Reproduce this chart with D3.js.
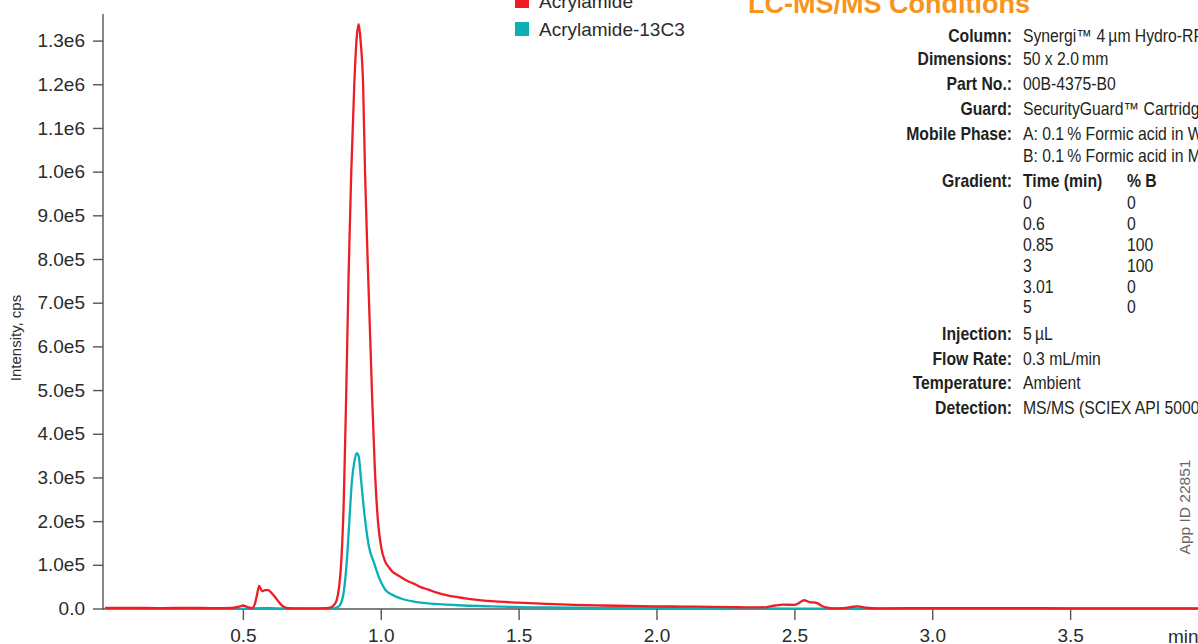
<!DOCTYPE html>
<html>
<head>
<meta charset="utf-8">
<script src="https://cdn.jsdelivr.net/npm/d3@7"></script>
<style>
  body { margin: 0; background: #fff; }
  svg { display: block; font-family: "Liberation Sans", Arial, Helvetica, sans-serif; }
</style>
</head>
<body>
<svg id="chart" width="1198" height="644"></svg>
<script>
// time (min) and intensity (cps)
var redTimes = [0, 0.1, 0.2, 0.3, 0.4, 0.46, 0.49, 0.5, 0.515, 0.533, 0.545, 0.552, 0.559, 0.566, 0.571, 0.58, 0.592, 0.605, 0.616, 0.628, 0.64, 0.652, 0.665, 0.7, 0.75, 0.8, 0.82, 0.83, 0.84, 0.849, 0.857, 0.866, 0.875, 0.884, 0.893, 0.904, 0.913, 0.92, 0.927, 0.936, 0.943, 0.955, 0.968, 0.978, 0.99, 1.002, 1.015, 1.03, 1.043, 1.06, 1.075, 1.097, 1.12, 1.145, 1.17, 1.2, 1.25, 1.3, 1.35, 1.4, 1.5, 1.6, 1.7, 1.8, 1.9, 2.0, 2.1, 2.2, 2.3, 2.36, 2.4, 2.43, 2.46, 2.5, 2.515, 2.535, 2.555, 2.58, 2.6, 2.62, 2.64, 2.68, 2.71, 2.73, 2.76, 2.8, 2.9, 3.0, 3.2, 3.4, 3.6, 3.8, 4.0];
var redValues = [2500, 2500, 2000, 2500, 2000, 2500, 6000, 8000, 5000, 2000, 15000, 35000, 53000, 44000, 41000, 43000, 43000, 36000, 28000, 18000, 9000, 4000, 2000, 1500, 1500, 2000, 4000, 9000, 20000, 50000, 110000, 250000, 500000, 780000, 1000000, 1200000, 1310000, 1339000, 1300000, 1200000, 1000000, 750000, 500000, 330000, 200000, 140000, 110000, 95000, 85000, 78000, 72000, 64000, 58000, 50000, 45000, 38000, 30000, 25000, 21000, 18000, 14500, 11500, 9500, 8000, 7000, 6000, 5500, 5000, 4000, 3500, 4500, 8000, 10000, 9500, 13000, 20000, 16000, 14000, 7000, 3000, 1500, 2000, 5000, 6000, 3000, 1500, 1800, 2000, 2000, 1800, 1500, 1500, 1500];

var tealTimes = [0, 0.5, 0.57, 0.62, 0.8, 0.83, 0.845, 0.855, 0.866, 0.877, 0.886, 0.895, 0.905, 0.913, 0.92, 0.928, 0.937, 0.946, 0.958, 0.976, 0.995, 1.018, 1.04, 1.073, 1.12, 1.17, 1.24, 1.3, 1.4, 1.5, 1.6, 1.8, 2.0, 2.5, 3.0, 4.0];
var tealValues = [500, 500, 2000, 1500, 500, 1500, 5000, 12000, 40000, 110000, 200000, 290000, 340000, 357000, 350000, 300000, 240000, 190000, 140000, 105000, 70000, 43000, 33000, 24000, 17000, 13000, 10000, 8000, 6000, 4500, 3500, 2500, 2000, 1000, 800, 800];

var seriesNames = ["Acrylamide", "Acrylamide-13C3"];
var seriesColors = ["#ee1c25", "#0bb0b5"];

var xTicks = [0.5, 1.0, 1.5, 2.0, 2.5, 3.0, 3.5];
var yTicks = [0, 1e5, 2e5, 3e5, 4e5, 5e5, 6e5, 7e5, 8e5, 9e5, 1e6, 1.1e6, 1.2e6, 1.3e6];
var yTickLabels = ["0.0", "1.0e5", "2.0e5", "3.0e5", "4.0e5", "5.0e5", "6.0e5", "7.0e5", "8.0e5", "9.0e5", "1.0e6", "1.1e6", "1.2e6", "1.3e6"];

// LC-MS/MS conditions panel
var condLabels = ["Column:", "Dimensions:", "Part No.:", "Guard:", "Mobile Phase:", "", "Gradient:"];
var condValues = ["Synergi\u2122 4\u2009\u00b5m Hydro-RP 80 \u00c5", "50 x 2.0\u2009mm", "00B-4375-B0", "SecurityGuard\u2122  Cartridges AQ C18", "A: 0.1\u2009% Formic acid in Water", "B: 0.1\u2009% Formic acid in Methanol", "Time (min)"];
var gradTimes = ["0", "0.6", "0.85", "3", "3.01", "5"];
var gradB = ["0", "0", "100", "100", "0", "0"];
var condLabels2 = ["Injection:", "Flow Rate:", "Temperature:", "Detection:"];
var condValues2 = ["5\u2009\u00b5L", "0.3 mL/min", "Ambient", "MS/MS (SCIEX API 5000\u2122)"];

var svg = d3.select("#chart");

var x = d3.scaleLinear().domain([0, 4]).range([105, 1208]);
var y = d3.scaleLinear().domain([0, 1.362e6]).range([609, 14]);

var axisColor = "#555";

// clip so the traces stop at the picture edge
svg.append("clipPath").attr("id", "plotclip")
  .append("rect").attr("x", 103).attr("y", 0).attr("width", 1095).attr("height", 610);

// x axis
var xAxis = d3.axisBottom(x).tickValues(xTicks).tickFormat(d3.format(".1f"))
  .tickSize(11).tickSizeOuter(0).tickPadding(9);
var gx = svg.append("g").attr("transform", "translate(0,609)").call(xAxis);
gx.select(".domain").remove();
gx.append("line").attr("x1", 103).attr("x2", 1198).attr("y1", 0).attr("y2", 0)
  .attr("stroke", axisColor).attr("stroke-width", 1.4);
gx.selectAll(".tick line").attr("stroke", axisColor).attr("stroke-width", 1.4);
gx.selectAll(".tick text").attr("fill", "#2b2b2b").style("font-size", "19px");
svg.append("text").attr("x", 1168).attr("y", 642.5).attr("fill", "#2b2b2b")
  .style("font-size", "19px").text("min");

// y axis
var yAxis = d3.axisLeft(y).tickValues(yTicks)
  .tickFormat(function (d, i) { return yTickLabels[i]; })
  .tickSize(10).tickSizeOuter(0).tickPadding(8);
var gy = svg.append("g").call(yAxis);
gy.select(".domain").remove();
gy.selectAll(".tick").attr("transform", function (d) { return "translate(103," + y(d) + ")"; });
gy.selectAll(".tick line").attr("stroke", axisColor).attr("stroke-width", 1.4);
gy.selectAll(".tick text").attr("fill", "#2b2b2b").style("font-size", "19px");
svg.append("line").attr("x1", 103).attr("x2", 103).attr("y1", 14).attr("y2", 609.7)
  .attr("stroke", axisColor).attr("stroke-width", 1.4);

svg.append("text")
  .attr("transform", "translate(21,338) rotate(-90)")
  .attr("text-anchor", "middle").attr("fill", "#2b2b2b")
  .style("font-size", "15px").text("Intensity, cps");

// traces
var line = d3.line()
  .x(function (d) { return x(d[0]); })
  .y(function (d) { return y(d[1]); })
  .curve(d3.curveMonotoneX);

var tealData = d3.zip(tealTimes, tealValues);
var redData = d3.zip(redTimes, redValues);

svg.append("path").datum(tealData).attr("clip-path", "url(#plotclip)")
  .attr("d", line).attr("fill", "none")
  .attr("stroke", seriesColors[1]).attr("stroke-width", 2.3).attr("stroke-linejoin", "round");
svg.append("path").datum(redData).attr("clip-path", "url(#plotclip)")
  .attr("d", line).attr("fill", "none")
  .attr("stroke", seriesColors[0]).attr("stroke-width", 2.3).attr("stroke-linejoin", "round");

// legend
var legend = svg.append("g").attr("transform", "translate(515,0)");
seriesNames.forEach(function (name, i) {
  var yy = -6 + i * 28;
  legend.append("rect").attr("x", 0).attr("y", yy).attr("width", 14).attr("height", 14)
    .attr("fill", seriesColors[i]);
  legend.append("text").attr("x", 24).attr("y", yy + 14).attr("fill", "#2b2b2b")
    .style("font-size", "19px").text(name);
});

// conditions title
svg.append("text").attr("x", 748).attr("y", 13).attr("fill", "#f7941d")
  .style("font-size", "27px").style("font-weight", "bold").text("LC-MS/MS Conditions");

// conditions table, squeezed to look like a condensed face
var sx = 0.9;
var cond = svg.append("g").attr("transform", "translate(1012,0) scale(" + sx + ",1)")
  .style("font-size", "17.5px").attr("fill", "#231f20");
var valX = 11 / sx;
var bX = 115 / sx;
var rowY = [41.7, 65.5, 90, 115, 140, 161.7, 186.7];
condLabels.forEach(function (lab, i) {
  cond.append("text").attr("x", 0).attr("y", rowY[i]).attr("text-anchor", "end")
    .style("font-weight", "bold").text(lab);
  cond.append("text").attr("x", valX).attr("y", rowY[i])
    .style("font-weight", i == 6 ? "bold" : "normal").text(condValues[i]);
});
cond.append("text").attr("x", bX).attr("y", rowY[6]).style("font-weight", "bold").text("% B");
gradTimes.forEach(function (t, i) {
  var yy = 209 + i * 20.9;
  cond.append("text").attr("x", valX).attr("y", yy).text(t);
  cond.append("text").attr("x", bX).attr("y", yy).text(gradB[i]);
});
condLabels2.forEach(function (lab, i) {
  var yy = 340 + i * 24.7;
  cond.append("text").attr("x", 0).attr("y", yy).attr("text-anchor", "end")
    .style("font-weight", "bold").text(lab);
  cond.append("text").attr("x", valX).attr("y", yy).text(condValues2[i]);
});

// app id
svg.append("text")
  .attr("transform", "translate(1190,507) rotate(-90)")
  .attr("text-anchor", "middle").attr("fill", "#666")
  .style("font-size", "15.5px").text("App ID 22851");
</script>
</body>
</html>
